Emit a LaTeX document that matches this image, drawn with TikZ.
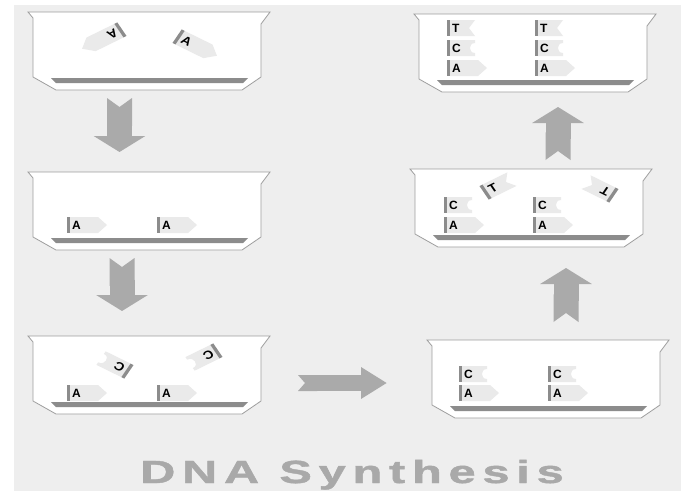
\documentclass[tikz,border=0pt]{standalone}
\usepackage{fontspec}
\setsansfont{Liberation Sans}
\newfontfamily\titlefont[LetterSpace=14,FakeBold=1.2]{Liberation Sans}
\usetikzlibrary{arrows.meta}
\definecolor{bggray}{HTML}{EEEEEE}
\definecolor{edgegray}{HTML}{9E9E9E}
\definecolor{bargray}{HTML}{8C8C8C}
\definecolor{flaggray}{HTML}{EAEAEA}
\definecolor{arrowgray}{HTML}{AAAAAA}
\definecolor{titlegray}{HTML}{A9A9A9}
\tikzset{
  tray/.pic={
    \draw[edgegray,line width=0.8pt,fill=white] (0,0) -- (242,0) -- (233,12) -- (233,65)
      -- (214,78) -- (28,78) -- (5,65) -- (5,6) -- cycle;
    \fill[bargray] (23,66) -- (220,66) -- (215,71) -- (28,71) -- cycle;
  },
  base letter/.style={font=\sffamily\bfseries\fontsize{12}{12}\selectfont,inner sep=0,
    anchor=west,transform shape},
  baseA/.pic={
    \fill[flaggray] (-15,-8) -- (13,-8) -- (22,0) -- (13,8) -- (-15,8) -- cycle;
    \fill[bargray] (-18,-8) rectangle (-15,8);
    \node[base letter] (-l) at (-13,0) {A};
  },
  baseC/.pic={
    \fill[flaggray] (-15,-8) -- (10,-8) -- (10,-5) .. controls (6,-5) and (5,-2) .. (5,0)
      .. controls (5,2) and (6,5) .. (10,5) -- (10,8) -- (-15,8) -- cycle;
    \fill[bargray] (-18,-8) rectangle (-15,8);
    \node[base letter] (-l) at (-13,0) {C};
  },
  baseT/.pic={
    \fill[flaggray] (-15,-8) -- (10,-8) -- (4,0) -- (10,8) -- (-15,8) -- cycle;
    \fill[bargray] (-18,-8) rectangle (-15,8);
    \node[base letter] (-l) at (-13,0) {T};
  },
  loose/.style={yscale=0.85,rotate=#1,scale=1.15},
  flow/.style={arrowgray,line width=25pt,{Triangle Cap[reversed,length=9pt]}-{Triangle[length=16pt,width=51pt]}},
  flowflat/.style={arrowgray,line width=16pt,{Triangle Cap[reversed,length=7pt]}-{Triangle[length=26pt,width=30pt]}}
}
\begin{document}
\begin{tikzpicture}[x=1pt,y=-1pt]
  \useasboundingbox (0,0) rectangle (681,491);
  \fill[bggray] (14,5) rectangle (681,491);
  % trays
  \pic (t1) at (28,12) {tray};
  \pic (t2) at (28,172) {tray};
  \pic (t3) at (28,336) {tray};
  \pic (r1) at (414,14) {tray};
  \pic (r2) at (410,169) {tray};
  \pic (r3) at (427,340) {tray};
  % free bases
  \pic[loose=-150] (f1) at (104,38) {baseA};
  \pic[loose=-30] (f2) at (195,45) {baseA};
  \pic[loose=150] (f3) at (111,363) {baseC};
  \pic[loose=-150] (f4) at (200,359) {baseC};
  \pic[loose=30] (f5) at (502,184) {baseT};
  \pic[loose=150] (f6) at (596,187) {baseT};
  % bound bases
  \pic (a1) at (85,225) {baseA};
  \pic (a2) at (175,225) {baseA};
  \pic (a3) at (85,393) {baseA};
  \pic (a4) at (175,393) {baseA};
  \pic (a5) at (477,393) {baseA};
  \pic (a6) at (566,393) {baseA};
  \pic (c5) at (477,374) {baseC};
  \pic (c6) at (566,374) {baseC};
  \pic (a7) at (462,225) {baseA};
  \pic (a8) at (551,225) {baseA};
  \pic (c7) at (462,205) {baseC};
  \pic (c8) at (551,205) {baseC};
  \pic (a9) at (465,68) {baseA};
  \pic (a10) at (553,68) {baseA};
  \pic (c9) at (465,48) {baseC};
  \pic (c10) at (553,48) {baseC};
  \pic (t9) at (465,28) {baseT};
  \pic (t10) at (553,28) {baseT};
  % arrows between steps
  \coordinate (s1) at (119.5,98);  \coordinate (e1) at (119.5,152);
  \coordinate (s2) at (122,258);   \coordinate (e2) at (122,311);
  \coordinate (s3) at (298,383);   \coordinate (e3) at (387,383);
  \coordinate (s4) at (566,322);   \coordinate (e4) at (566,268);
  \coordinate (s5) at (558,160);   \coordinate (e5) at (558,107);
  \draw[flow] (s1) -- (e1);
  \draw[flow] (s2) -- (e2);
  \draw[flowflat] (s3) -- (e3);
  \draw[flow] (s4) -- (e4);
  \draw[flow] (s5) -- (e5);
  \node[titlegray,font=\titlefont\bfseries\fontsize{32}{32}\selectfont,xscale=1.52,anchor=base]
    (title) at (352,483) {DNA Synthesis};
\end{tikzpicture}
\end{document}
